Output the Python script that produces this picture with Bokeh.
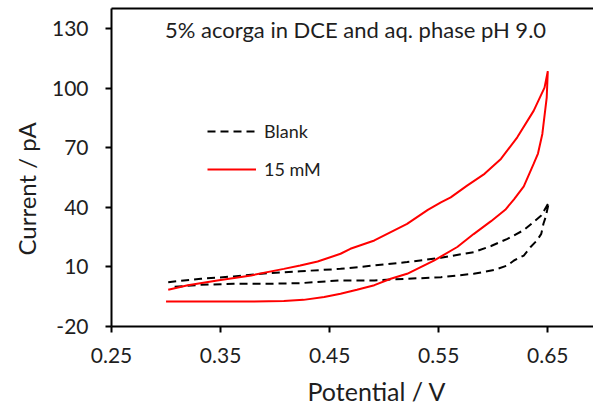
from bokeh.plotting import figure
from bokeh.models import (Range1d, FixedTicker, PrintfTickFormatter, LinearAxis,
                          Label, Legend, LegendItem, Title)
from bokeh.embed import file_html
from bokeh.resources import INLINE

# Cyclic voltammograms: potential (V) vs current (pA)
blank_fwd_v = [0.302, 0.332, 0.362, 0.393, 0.423, 0.460, 0.491, 0.521, 0.552,
               0.582, 0.598, 0.613, 0.628, 0.644, 0.651]
blank_fwd_i = [2.3, 4.0, 5.2, 6.8, 7.8, 9.0, 10.7, 12.4, 14.6,
               17.4, 20.5, 24.1, 28.5, 35.8, 42.5]
blank_rev_v = [0.651, 0.648, 0.646, 0.644, 0.640, 0.634, 0.628, 0.619, 0.613,
               0.601, 0.582, 0.567, 0.552, 0.521, 0.491, 0.460, 0.423, 0.393,
               0.362, 0.332, 0.304]
blank_rev_i = [42.5, 35.0, 31.7, 26.6, 23.3, 19.9, 15.7, 13.2, 10.7,
               8.5, 6.5, 5.7, 4.8, 4.0, 3.2, 3.2, 1.8, 1.5,
               1.5, 1.0, -0.2]

red_fwd_v = [0.302, 0.320, 0.347, 0.378, 0.408, 0.423, 0.439, 0.460, 0.469,
             0.491, 0.506, 0.521, 0.540, 0.552, 0.561, 0.576, 0.592, 0.607,
             0.622, 0.637, 0.647, 0.650]
red_fwd_i = [-1.5, 0.8, 3.2, 5.7, 9.0, 10.7, 12.7, 16.6, 19.1,
             23.3, 27.5, 31.6, 38.7, 42.5, 45.0, 50.9, 56.8, 64.3,
             75.2, 88.5, 100.2, 108.5]
red_rev_v = [0.650, 0.649, 0.645, 0.641, 0.637, 0.628, 0.619, 0.611, 0.598,
             0.582, 0.567, 0.546, 0.521, 0.506, 0.491, 0.475, 0.460, 0.445,
             0.426, 0.408, 0.378, 0.347, 0.300]
red_rev_i = [108.5, 95.2, 76.9, 67.0, 61.8, 50.5, 44.0, 38.7, 33.0,
             26.5, 20.0, 13.3, 6.5, 4.0, 0.8, -1.5, -3.5, -5.2,
             -6.6, -7.2, -7.4, -7.4, -7.4]

x_ticks = [0.25, 0.35, 0.45, 0.55, 0.65]
y_ticks = [-20, 10, 40, 70, 100, 130]

FONT = "Lato"
TEXT = "#1e1e1e"

p = figure(width=593, height=414, output_backend="svg", toolbar_location=None,
           x_range=Range1d(0.25, 0.6919), y_range=Range1d(-20, 140),
           min_border_left=111, min_border_right=0, min_border_top=8,
           min_border_bottom=88)
p.outline_line_color = None
p.grid.visible = False
p.background_fill_color = "white"
p.border_fill_color = "white"

for ax, ticks, fmt in ((p.xaxis[0], x_ticks, "%.2f"), (p.yaxis[0], y_ticks, "%d")):
    ax.ticker = FixedTicker(ticks=ticks)
    ax.formatter = PrintfTickFormatter(format=fmt)
    ax.axis_line_color = "black"
    ax.axis_line_width = 2
    ax.major_tick_line_color = "black"
    ax.major_tick_line_width = 2
    ax.major_tick_out = 6
    ax.major_tick_in = 0
    ax.minor_tick_line_color = None
    ax.major_label_text_font = FONT
    ax.major_label_text_font_size = "21px"
    ax.major_label_text_color = TEXT
p.yaxis[0].major_label_standoff = 17
p.xaxis[0].major_label_standoff = 15

# top border line of the plot area
top = LinearAxis(axis_line_color="black", axis_line_width=2,
                 major_tick_line_color=None, minor_tick_line_color=None,
                 major_label_text_font_size="0px", major_label_standoff=0,
                 ticker=FixedTicker(ticks=[]))
p.add_layout(top, "above")

r_blank = p.line(blank_fwd_v + blank_rev_v, blank_fwd_i + blank_rev_i,
                 line_color="black", line_width=2, line_dash="8 5")
r_red = p.line(red_fwd_v + red_rev_v, red_fwd_i + red_rev_i,
               line_color="#ff0000", line_width=2)

legend = Legend(items=[LegendItem(label="Blank", renderers=[r_blank]),
                       LegendItem(label="15 mM", renderers=[r_red])],
                location=(96, 146), padding=0, margin=0, spacing=16,
                glyph_width=49, glyph_height=20, label_height=20,
                label_standoff=8, border_line_color=None,
                background_fill_alpha=0,
                label_text_font=FONT, label_text_font_size="18px",
                label_text_color=TEXT)
p.add_layout(legend)

p.add_layout(Label(x=0.4737, y=129.2, text="5% acorga in DCE and aq. phase pH 9.0",
                   text_align="center", text_baseline="alphabetic",
                   text_font=FONT, text_font_size="22px", text_color=TEXT))

# axis titles
p.add_layout(Title(text="Potential / V", align="left", offset=196, standoff=16,
                   text_font=FONT, text_font_size="25px",
                   text_font_style="normal", text_color=TEXT), "below")
p.add_layout(Title(text="Current / pA", align="left", offset=71, standoff=15,
                   text_font=FONT, text_font_size="24px",
                   text_font_style="normal", text_color=TEXT), "left")

open("out.html", "w").write(file_html(p, INLINE))
